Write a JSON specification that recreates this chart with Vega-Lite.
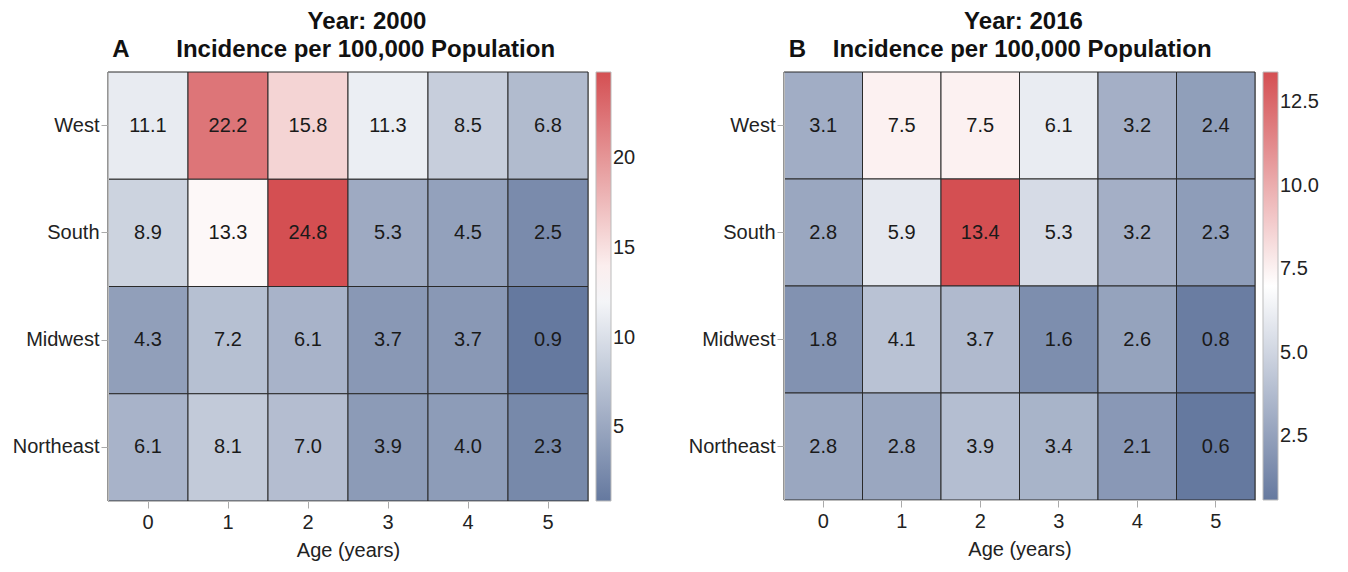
{
  "$schema": "https://vega.github.io/schema/vega-lite/v6.json",
  "background": "white",
  "padding": {"left": 11, "top": 9, "right": 5, "bottom": 5},
  "config": {
    "font": "Liberation Sans",
    "view": {"stroke": "#aaaaaa"},
    "axis": {
      "labelFont": "Liberation Sans",
      "labelFontSize": 20,
      "labelColor": "#222222",
      "titleFont": "Liberation Sans",
      "titleFontSize": 20,
      "titleFontWeight": "normal",
      "titleColor": "#222222",
      "domainColor": "#bbbbbb",
      "tickColor": "#aaaaaa",
      "tickSize": 7,
      "grid": false
    },
    "legend": {
      "labelFont": "Liberation Sans",
      "labelFontSize": 20,
      "labelColor": "#222222",
      "gradientThickness": 15,
      "gradientStrokeColor": "#bbbbbb",
      "gradientStrokeWidth": 1,
      "offset": 8,
      "labelOffset": 10,
      "title": null
    },
    "title": {
      "font": "Liberation Sans",
      "fontSize": 24,
      "fontWeight": "bold",
      "color": "#111111",
      "anchor": "middle",
      "lineHeight": 28,
      "offset": 10
    },
    "concat": {"spacing": 50}
  },
  "datasets": {
    "cells": [
      {"year": 2000, "region": "West", "age": 0, "value": 11.1},
      {"year": 2000, "region": "West", "age": 1, "value": 22.2},
      {"year": 2000, "region": "West", "age": 2, "value": 15.8},
      {"year": 2000, "region": "West", "age": 3, "value": 11.3},
      {"year": 2000, "region": "West", "age": 4, "value": 8.5},
      {"year": 2000, "region": "West", "age": 5, "value": 6.8},
      {"year": 2000, "region": "South", "age": 0, "value": 8.9},
      {"year": 2000, "region": "South", "age": 1, "value": 13.3},
      {"year": 2000, "region": "South", "age": 2, "value": 24.8},
      {"year": 2000, "region": "South", "age": 3, "value": 5.3},
      {"year": 2000, "region": "South", "age": 4, "value": 4.5},
      {"year": 2000, "region": "South", "age": 5, "value": 2.5},
      {"year": 2000, "region": "Midwest", "age": 0, "value": 4.3},
      {"year": 2000, "region": "Midwest", "age": 1, "value": 7.2},
      {"year": 2000, "region": "Midwest", "age": 2, "value": 6.1},
      {"year": 2000, "region": "Midwest", "age": 3, "value": 3.7},
      {"year": 2000, "region": "Midwest", "age": 4, "value": 3.7},
      {"year": 2000, "region": "Midwest", "age": 5, "value": 0.9},
      {"year": 2000, "region": "Northeast", "age": 0, "value": 6.1},
      {"year": 2000, "region": "Northeast", "age": 1, "value": 8.1},
      {"year": 2000, "region": "Northeast", "age": 2, "value": 7.0},
      {"year": 2000, "region": "Northeast", "age": 3, "value": 3.9},
      {"year": 2000, "region": "Northeast", "age": 4, "value": 4.0},
      {"year": 2000, "region": "Northeast", "age": 5, "value": 2.3},
      {"year": 2016, "region": "West", "age": 0, "value": 3.1},
      {"year": 2016, "region": "West", "age": 1, "value": 7.5},
      {"year": 2016, "region": "West", "age": 2, "value": 7.5},
      {"year": 2016, "region": "West", "age": 3, "value": 6.1},
      {"year": 2016, "region": "West", "age": 4, "value": 3.2},
      {"year": 2016, "region": "West", "age": 5, "value": 2.4},
      {"year": 2016, "region": "South", "age": 0, "value": 2.8},
      {"year": 2016, "region": "South", "age": 1, "value": 5.9},
      {"year": 2016, "region": "South", "age": 2, "value": 13.4},
      {"year": 2016, "region": "South", "age": 3, "value": 5.3},
      {"year": 2016, "region": "South", "age": 4, "value": 3.2},
      {"year": 2016, "region": "South", "age": 5, "value": 2.3},
      {"year": 2016, "region": "Midwest", "age": 0, "value": 1.8},
      {"year": 2016, "region": "Midwest", "age": 1, "value": 4.1},
      {"year": 2016, "region": "Midwest", "age": 2, "value": 3.7},
      {"year": 2016, "region": "Midwest", "age": 3, "value": 1.6},
      {"year": 2016, "region": "Midwest", "age": 4, "value": 2.6},
      {"year": 2016, "region": "Midwest", "age": 5, "value": 0.8},
      {"year": 2016, "region": "Northeast", "age": 0, "value": 2.8},
      {"year": 2016, "region": "Northeast", "age": 1, "value": 2.8},
      {"year": 2016, "region": "Northeast", "age": 2, "value": 3.9},
      {"year": 2016, "region": "Northeast", "age": 3, "value": 3.4},
      {"year": 2016, "region": "Northeast", "age": 4, "value": 2.1},
      {"year": 2016, "region": "Northeast", "age": 5, "value": 0.6}
    ]
  },
  "resolve": {"scale": {"color": "independent"}, "legend": {"color": "independent"}},
  "hconcat": [
    {
      "data": {"name": "cells"},
      "transform": [{"filter": "datum.year == 2000"}],
      "width": 480,
      "height": 429,
      "title": {"text": ["Year: 2000", "A\u00a0\u00a0\u00a0\u00a0\u00a0\u00a0\u00a0Incidence per 100,000 Population\u00a0\u00a0\u00a0\u00a0\u00a0\u00a0\u00a0\u00a0\u00a0\u00a0\u200b"], "dx": 19},
      "encoding": {
        "x": {"field": "age", "type": "ordinal", "title": "Age (years)", "scale": {"paddingInner": 0, "paddingOuter": 0}, "axis": {"labelAngle": 0, "labelPadding": 4, "titlePadding": 8}},
        "y": {"field": "region", "type": "nominal", "title": null, "sort": ["West", "South", "Midwest", "Northeast"], "scale": {"paddingInner": 0, "paddingOuter": 0}, "axis": {"labelPadding": 2}}
      },
      "layer": [
        {
          "mark": {"type": "rect", "stroke": "#2a2a2a", "strokeWidth": 1},
          "encoding": {
            "color": {"field": "value", "type": "quantitative",
              "scale": {"domain": [0.9, 12.85, 24.8], "range": ["#65799f", "#ffffff", "#d44f52"], "interpolate": "rgb"},
              "legend": {"values": [5, 10, 15, 20], "gradientLength": 429}}
          }
        },
        {
          "mark": {"type": "text", "fontSize": 20, "color": "#1a1a1a", "font": "Liberation Sans"},
          "encoding": {"text": {"field": "value", "type": "quantitative", "format": ".1f"}}
        }
      ]
    },
    {
      "data": {"name": "cells"},
      "transform": [{"filter": "datum.year == 2016"}],
      "width": 471,
      "height": 428,
      "title": {"text": ["Year: 2016", "B\u00a0\u00a0\u00a0\u00a0Incidence per 100,000 Population\u00a0\u00a0\u00a0\u00a0\u00a0\u00a0\u00a0\u200b"], "dx": 4},
      "encoding": {
        "x": {"field": "age", "type": "ordinal", "title": "Age (years)", "scale": {"paddingInner": 0, "paddingOuter": 0}, "axis": {"labelAngle": 0, "labelPadding": 4, "titlePadding": 8}},
        "y": {"field": "region", "type": "nominal", "title": null, "sort": ["West", "South", "Midwest", "Northeast"], "scale": {"paddingInner": 0, "paddingOuter": 0}, "axis": {"labelPadding": 2}}
      },
      "layer": [
        {
          "mark": {"type": "rect", "stroke": "#2a2a2a", "strokeWidth": 1},
          "encoding": {
            "color": {"field": "value", "type": "quantitative",
              "scale": {"domain": [0.6, 7.0, 13.4], "range": ["#65799f", "#ffffff", "#d44f52"], "interpolate": "rgb"},
              "legend": {"values": [2.5, 5, 7.5, 10, 12.5], "format": ".1f", "gradientLength": 428}}
          }
        },
        {
          "mark": {"type": "text", "fontSize": 20, "color": "#1a1a1a", "font": "Liberation Sans"},
          "encoding": {"text": {"field": "value", "type": "quantitative", "format": ".1f"}}
        }
      ]
    }
  ]
}
